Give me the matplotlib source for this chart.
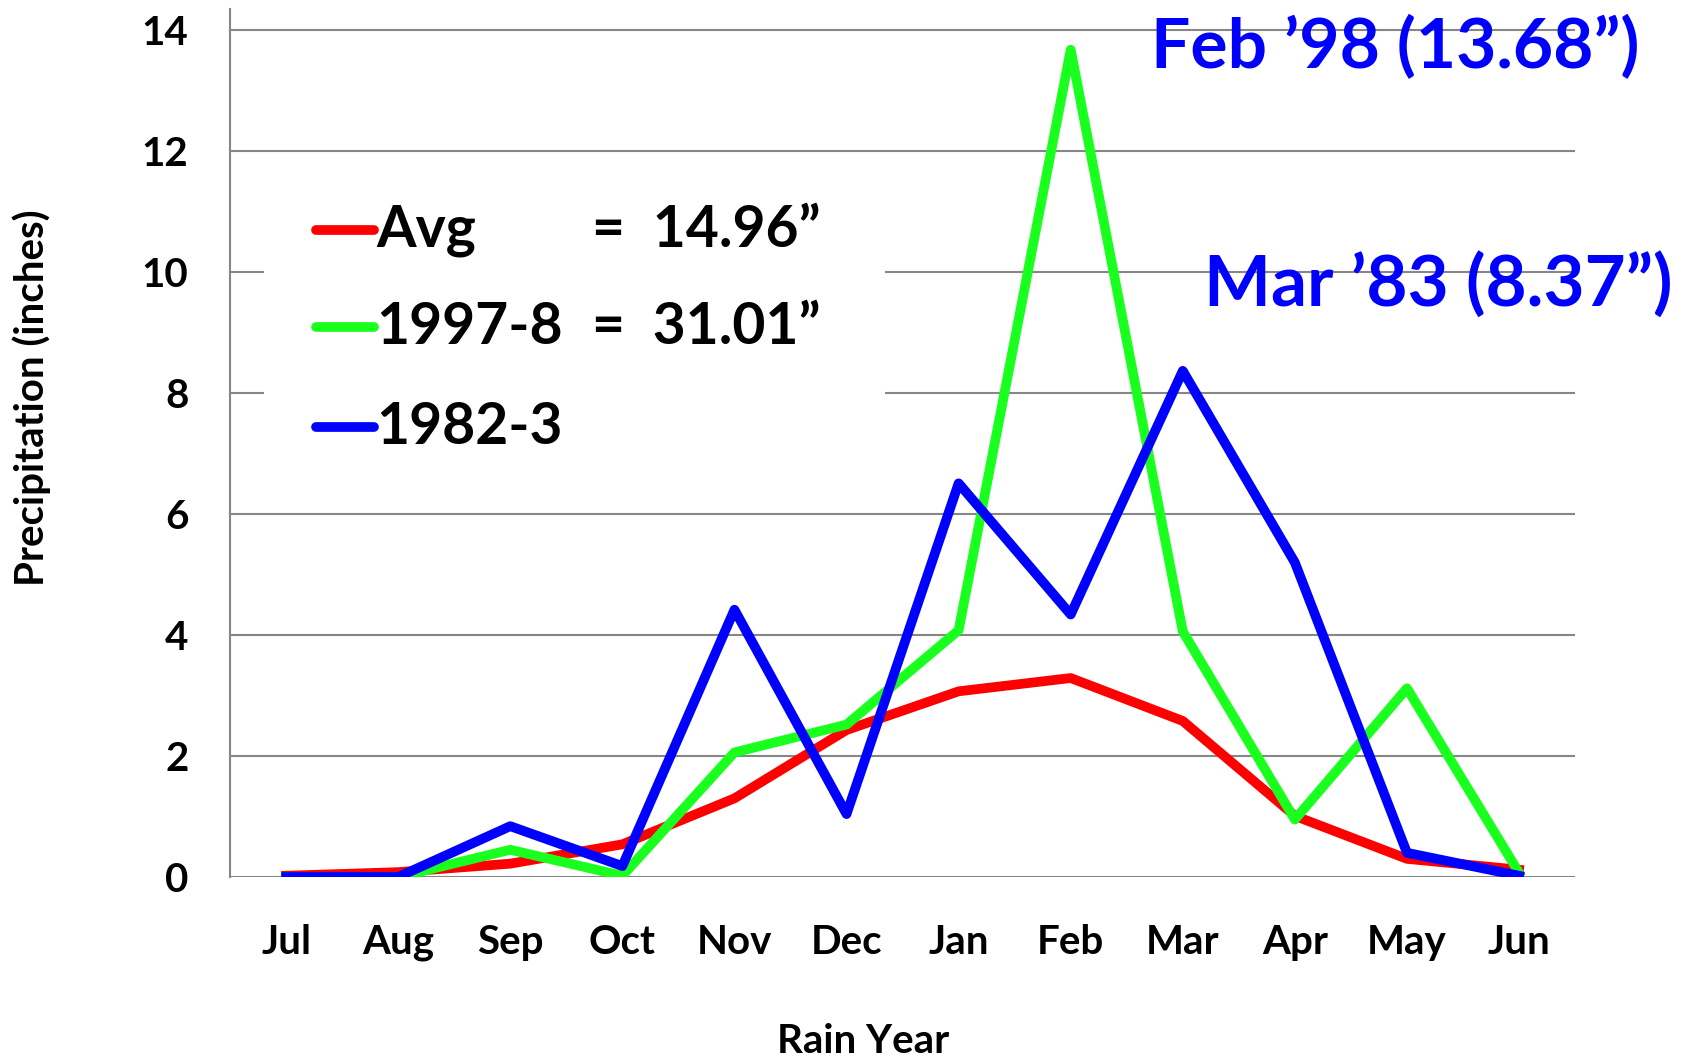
import matplotlib
matplotlib.use("Agg")
from matplotlib import pyplot as plt
from matplotlib.patches import Rectangle

months = ['Jul', 'Aug', 'Sep', 'Oct', 'Nov', 'Dec',
          'Jan', 'Feb', 'Mar', 'Apr', 'May', 'Jun']
avg = [0.02, 0.08, 0.22, 0.54, 1.30, 2.43, 3.07, 3.29, 2.58, 1.01, 0.30, 0.12]
wet_1997_8 = [0.0, 0.0, 0.45, 0.02, 2.06, 2.52, 4.08, 13.68, 4.06, 0.95, 3.12, 0.07]
wet_1982_3 = [0.0, 0.0, 0.84, 0.18, 4.42, 1.04, 6.51, 4.34, 8.37, 5.20, 0.40, 0.02]
series_names = ['Avg', '1997-8', '1982-3']
series_totals = ['=  14.96\u201d', '=  31.01\u201d', '']
series_colors = ['#ff0000', '#19ff1e', '#0000ff']
notes = ['Feb \u201998 (13.68\u201d)', 'Mar \u201983 (8.37\u201d)']
yticks = [0, 2, 4, 6, 8, 10, 12, 14]

plt.rcParams['font.family'] = ['Lato', 'DejaVu Sans']
plt.rcParams['font.weight'] = 'bold'

fig = plt.figure(figsize=(16.88, 10.63), dpi=100)
ax = fig.add_axes([0.1363, 0.175, 0.7968, 0.8169])

x = range(len(months))
for vals, c in zip([avg, wet_1997_8, wet_1982_3], series_colors):
    ax.plot(x, vals, color=c, lw=7.0, solid_joinstyle='round', zorder=3)

ax.set_xlim(-0.5, len(months) - 0.5)
ax.set_ylim(0, 14.36)
ax.set_yticks(yticks)
ax.set_xticks(list(x))
ax.set_xticklabels(months)
ax.tick_params(length=0, labelsize=29, pad=30)
ax.tick_params(axis='x', pad=34)
ax.yaxis.grid(True, color='#868686', lw=1.5, zorder=1)
ax.set_axisbelow(True)
for s in ['top', 'right', 'bottom']:
    ax.spines[s].set_visible(False)
ax.spines['left'].set_color('#868686')
ax.spines['left'].set_linewidth(1.5)

ax.set_xlabel('Rain Year', fontsize=29, fontweight='bold')
ax.xaxis.set_label_coords(0.471, -0.168)
ax.set_ylabel('Precipitation (inches)', fontsize=29, fontweight='bold')
ax.yaxis.set_label_coords(-0.133, 0.552)

# white box behind the legend, covering the gridlines
ax.add_patch(Rectangle((0.025, 0.44), 0.462, 0.38, transform=ax.transAxes,
                       facecolor='white', edgecolor='none', zorder=2))

rows_y = [0.745, 0.633, 0.518]
for name, tot, c, yy in zip(series_names, series_totals, series_colors, rows_y):
    ax.plot([0.064, 0.107], [yy, yy], transform=ax.transAxes, color=c,
            lw=7.0, solid_capstyle='round', zorder=4)
    ax.text(0.109, yy, name, transform=ax.transAxes, fontsize=41,
            fontweight='bold', va='center', ha='left', zorder=4)
    if tot:
        ax.text(0.269, yy, tot, transform=ax.transAxes, fontsize=41,
                fontweight='bold', va='center', ha='left', zorder=4)

ax.text(0.685, 0.955, notes[0], transform=ax.transAxes, fontsize=50,
        fontweight='bold', color='#0000ff', va='center', ha='left',
        zorder=5, clip_on=False)
ax.text(0.724, 0.682, notes[1], transform=ax.transAxes, fontsize=51,
        fontweight='bold', color='#0000ff', va='center', ha='left',
        zorder=5, clip_on=False)

fig.savefig('out.png', dpi=100)
